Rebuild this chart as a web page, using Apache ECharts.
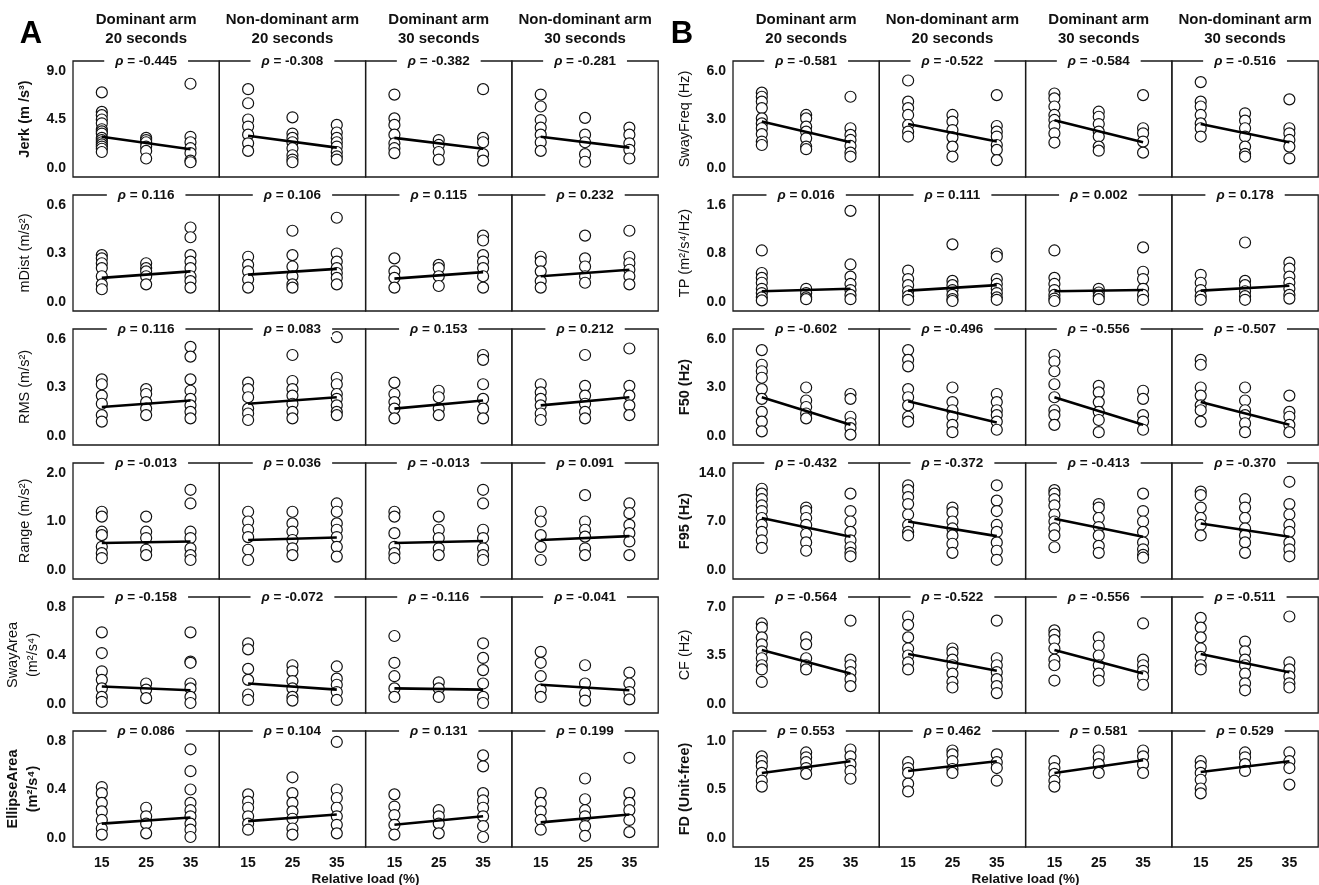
<!DOCTYPE html>
<html>
<head>
<meta charset="utf-8">
<script src="https://cdn.jsdelivr.net/npm/echarts@6/dist/echarts.min.js"></script>
<style>
  html, body { margin: 0; padding: 0; background: #fff; }
  #chart { width: 1319px; height: 885px; }
</style>
</head>
<body>
<div id="chart"></div>
<script>
// column headings and x positions (relative load, %)
const columns = ['Dominant arm\n20 seconds', 'Non-dominant arm\n20 seconds', 'Dominant arm\n30 seconds', 'Non-dominant arm\n30 seconds'];
const loads = [15, 25, 35];

// each metric: 4 panels (columns) x 3 loads
const jerk = [
  [[7.0, 5.2, 4.9, 4.5, 4.15, 3.6, 3.4, 3.2, 2.8, 2.6, 2.4, 2.2, 2.0, 1.8, 1.5], [2.8, 2.6, 2.4, 2.0, 1.6, 0.9], [7.8, 2.9, 2.4, 1.85, 1.4, 0.7, 0.55]],
  [[7.3, 6.0, 4.5, 3.85, 3.1, 2.3, 1.6], [4.7, 3.2, 2.8, 2.4, 1.85, 1.2, 0.8, 0.55], [4.0, 3.3, 2.8, 2.4, 2.0, 1.5, 1.1, 0.8]],
  [[6.8, 4.6, 4.0, 3.1, 2.3, 1.85, 1.4], [2.6, 2.15, 1.5, 0.8], [7.3, 2.8, 2.4, 1.3, 0.7]],
  [[6.8, 5.7, 4.45, 3.75, 3.1, 2.4, 1.6], [4.65, 3.1, 2.4, 1.3, 0.6], [3.75, 3.1, 2.3, 1.7, 0.9]]
];
const jerkLine = [[2.9, 1.75], [3.0, 1.9], [2.8, 1.8], [2.9, 1.9]];
const jerkRho = ['-0.445', '-0.308', '-0.382', '-0.281'];

const mDist = [
  [[0.29, 0.27, 0.24, 0.21, 0.16, 0.11, 0.08], [0.24, 0.21, 0.19, 0.16, 0.11], [0.46, 0.40, 0.29, 0.25, 0.21, 0.16, 0.13, 0.09]],
  [[0.28, 0.23, 0.19, 0.14, 0.09], [0.44, 0.29, 0.22, 0.16, 0.11, 0.09], [0.52, 0.30, 0.25, 0.21, 0.18, 0.15, 0.11]],
  [[0.27, 0.19, 0.15, 0.09], [0.23, 0.21, 0.16, 0.10], [0.41, 0.38, 0.29, 0.25, 0.21, 0.16, 0.09]],
  [[0.28, 0.25, 0.19, 0.13, 0.09], [0.41, 0.27, 0.22, 0.16, 0.12], [0.44, 0.28, 0.24, 0.20, 0.16, 0.11]]
];
const mDistLine = [[0.15, 0.19], [0.17, 0.205], [0.145, 0.185], [0.16, 0.20]];
const mDistRho = ['0.116', '0.106', '0.115', '0.232'];

const rms = [
  [[0.35, 0.32, 0.25, 0.20, 0.13, 0.09], [0.29, 0.26, 0.21, 0.17, 0.13], [0.55, 0.49, 0.35, 0.28, 0.23, 0.19, 0.15, 0.11]],
  [[0.33, 0.29, 0.24, 0.17, 0.14, 0.10], [0.50, 0.34, 0.29, 0.25, 0.20, 0.15, 0.11], [0.61, 0.36, 0.32, 0.26, 0.23, 0.19, 0.15, 0.13]],
  [[0.33, 0.26, 0.21, 0.17, 0.11], [0.28, 0.24, 0.17, 0.13], [0.50, 0.47, 0.32, 0.23, 0.17, 0.11]],
  [[0.32, 0.27, 0.23, 0.19, 0.14, 0.10], [0.50, 0.31, 0.25, 0.20, 0.15, 0.11], [0.54, 0.31, 0.25, 0.19, 0.13]]
];
const rmsLine = [[0.18, 0.22], [0.20, 0.24], [0.17, 0.22], [0.19, 0.24]];
const rmsRho = ['0.116', '0.083', '0.153', '0.212'];

const range = [
  [[1.2, 1.1, 0.79, 0.72, 0.48, 0.35, 0.25], [1.1, 0.79, 0.66, 0.42, 0.31], [1.65, 1.37, 0.79, 0.66, 0.45, 0.31, 0.21]],
  [[1.2, 1.0, 0.83, 0.68, 0.42, 0.21], [1.2, 0.96, 0.79, 0.62, 0.45, 0.31], [1.37, 1.2, 0.96, 0.83, 0.68, 0.48, 0.28]],
  [[1.2, 1.1, 0.76, 0.48, 0.35, 0.25], [1.1, 0.83, 0.66, 0.45, 0.31], [1.65, 1.37, 0.83, 0.66, 0.45, 0.31, 0.21]],
  [[1.2, 1.0, 0.72, 0.48, 0.21], [1.54, 1.0, 0.83, 0.69, 0.45, 0.31], [1.37, 1.17, 0.93, 0.76, 0.59, 0.31]]
];
const rangeLine = [[0.56, 0.59], [0.62, 0.67], [0.56, 0.60], [0.62, 0.70]];
const rangeRho = ['-0.013', '0.036', '-0.013', '0.091'];

const swayArea = [
  [[0.59, 0.42, 0.27, 0.20, 0.13, 0.06, 0.02], [0.17, 0.12, 0.05], [0.59, 0.35, 0.34, 0.17, 0.13, 0.06, 0.01]],
  [[0.50, 0.45, 0.29, 0.20, 0.08, 0.035], [0.32, 0.27, 0.19, 0.13, 0.06, 0.03], [0.31, 0.21, 0.16, 0.10, 0.035]],
  [[0.56, 0.34, 0.23, 0.13, 0.06], [0.18, 0.13, 0.06], [0.50, 0.38, 0.28, 0.17, 0.06, 0.01]],
  [[0.43, 0.34, 0.23, 0.12, 0.06], [0.32, 0.17, 0.09, 0.03], [0.26, 0.17, 0.10, 0.04]]
];
const swayAreaLine = [[0.145, 0.115], [0.17, 0.12], [0.13, 0.12], [0.16, 0.115]];
const swayAreaRho = ['-0.158', '-0.072', '-0.116', '-0.041'];

const ellipseArea = [
  [[0.42, 0.37, 0.29, 0.22, 0.15, 0.08, 0.03], [0.25, 0.18, 0.12, 0.04], [0.73, 0.55, 0.40, 0.29, 0.23, 0.18, 0.12, 0.07, 0.01]],
  [[0.36, 0.30, 0.25, 0.18, 0.12, 0.07], [0.50, 0.37, 0.29, 0.22, 0.16, 0.08, 0.03], [0.79, 0.40, 0.33, 0.25, 0.18, 0.11, 0.04]],
  [[0.36, 0.26, 0.19, 0.11, 0.03], [0.23, 0.18, 0.12, 0.04], [0.68, 0.59, 0.37, 0.31, 0.25, 0.18, 0.10, 0.01]],
  [[0.37, 0.29, 0.22, 0.15, 0.07], [0.49, 0.32, 0.23, 0.18, 0.10, 0.02], [0.66, 0.37, 0.29, 0.23, 0.15, 0.05]]
];
const ellipseAreaLine = [[0.12, 0.17], [0.14, 0.195], [0.11, 0.18], [0.13, 0.195]];
const ellipseAreaRho = ['0.086', '0.104', '0.131', '0.199'];

const swayFreq = [
  [[4.65, 4.4, 4.1, 3.7, 3.07, 2.76, 2.46, 2.1, 1.64, 1.43], [3.28, 3.07, 2.56, 2.25, 1.84, 1.33, 1.17], [4.4, 2.46, 2.05, 1.74, 1.37, 0.96, 0.72]],
  [[5.4, 4.1, 3.7, 3.28, 2.66, 2.25, 1.95], [3.28, 2.87, 2.35, 1.9, 1.33, 0.72], [4.5, 2.6, 2.25, 1.95, 1.43, 1.13, 0.5]],
  [[4.6, 4.3, 3.8, 3.28, 2.97, 2.6, 2.15, 1.58], [3.48, 3.17, 2.72, 2.25, 1.95, 1.33, 1.08], [4.5, 2.46, 2.15, 1.64, 0.96]],
  [[5.3, 4.1, 3.8, 3.28, 2.76, 2.46, 1.95], [3.38, 2.93, 2.46, 1.95, 1.33, 0.88, 0.72], [4.24, 2.46, 2.15, 1.74, 1.33, 0.61]]
];
const swayFreqLine = [[2.87, 1.6], [2.72, 1.65], [2.95, 1.6], [2.72, 1.6]];
const swayFreqRho = ['-0.581', '-0.522', '-0.584', '-0.516'];

const tp = [
  [[0.85, 0.48, 0.40, 0.32, 0.22, 0.15, 0.08, 0.03], [0.22, 0.15, 0.08, 0.05], [1.50, 0.62, 0.42, 0.30, 0.20, 0.12, 0.05]],
  [[0.52, 0.38, 0.28, 0.18, 0.10, 0.04], [0.95, 0.35, 0.28, 0.20, 0.12, 0.05, 0.02], [0.80, 0.75, 0.38, 0.30, 0.22, 0.15, 0.08, 0.04]],
  [[0.85, 0.40, 0.30, 0.20, 0.12, 0.06, 0.02], [0.22, 0.16, 0.10, 0.05], [0.90, 0.50, 0.38, 0.22, 0.12, 0.04]],
  [[0.45, 0.32, 0.20, 0.10, 0.04], [0.98, 0.35, 0.28, 0.18, 0.10, 0.04], [0.65, 0.55, 0.42, 0.32, 0.22, 0.12, 0.06]]
];
const tpLine = [[0.18, 0.22], [0.19, 0.28], [0.18, 0.20], [0.19, 0.27]];
const tpRho = ['0.016', '0.111', '0.002', '0.178'];

const f50 = [
  [[5.3, 4.4, 4.0, 3.6, 2.9, 2.3, 1.5, 0.9, 0.3], [3.0, 2.2, 1.8, 1.4, 1.1], [2.6, 2.3, 1.2, 0.8, 0.5, 0.1]],
  [[5.3, 4.7, 4.3, 2.9, 2.4, 1.9, 1.2, 0.9], [3.0, 2.1, 1.6, 1.2, 0.7, 0.25], [2.6, 2.1, 1.6, 1.3, 0.9, 0.4]],
  [[5.0, 4.6, 4.0, 3.2, 2.4, 1.6, 1.3, 0.7], [3.1, 2.7, 2.1, 1.5, 1.0, 0.25], [2.8, 2.3, 1.3, 0.9, 0.4]],
  [[4.7, 4.4, 3.0, 2.5, 1.9, 1.6, 0.9], [3.0, 2.2, 1.6, 1.3, 0.8, 0.25], [2.5, 1.5, 1.2, 0.7, 0.25]]
];
const f50Line = [[2.4, 0.7], [2.15, 0.85], [2.4, 0.7], [2.1, 0.7]];
const f50Rho = ['-0.602', '-0.496', '-0.556', '-0.507'];

const f95 = [
  [[11.7, 11.0, 10.2, 9.3, 8.5, 7.5, 6.5, 5.5, 4.3, 3.2], [9.0, 8.5, 7.5, 6.5, 5.2, 4.0, 2.8], [11.0, 8.5, 7.0, 5.5, 4.3, 3.3, 2.5, 2.0]],
  [[12.2, 11.5, 10.5, 9.5, 8.0, 6.5, 5.5, 5.0], [9.0, 8.3, 7.0, 6.0, 5.0, 3.8, 2.5], [12.2, 10.0, 8.5, 6.5, 5.5, 4.0, 2.8, 1.5]],
  [[11.5, 11.0, 10.2, 9.3, 8.0, 7.0, 6.0, 5.0, 3.3], [9.5, 9.0, 7.5, 6.2, 5.0, 3.5, 2.5], [11.0, 8.5, 7.0, 5.5, 4.0, 3.0, 2.2, 1.8]],
  [[11.3, 10.8, 9.0, 7.5, 6.5, 5.0], [10.2, 9.0, 7.5, 6.0, 5.0, 4.0, 2.5], [12.7, 9.5, 8.0, 6.5, 5.5, 4.0, 3.0, 2.0]]
];
const f95Line = [[7.5, 4.8], [7.0, 4.9], [7.4, 4.8], [6.7, 4.8]];
const f95Rho = ['-0.432', '-0.372', '-0.413', '-0.370'];

const cf = [
  [[5.8, 5.5, 4.8, 4.3, 3.8, 3.3, 2.8, 2.5, 1.6], [4.8, 4.3, 3.3, 2.8, 2.5], [6.0, 3.2, 2.8, 2.3, 1.8, 1.3]],
  [[6.3, 5.7, 4.8, 4.0, 3.5, 3.0, 2.5], [4.0, 3.7, 3.2, 2.8, 2.2, 1.6, 1.2], [6.0, 3.3, 2.8, 2.3, 1.8, 1.3, 0.8]],
  [[5.3, 5.0, 4.6, 4.0, 3.2, 2.8, 1.7], [4.8, 4.2, 3.5, 2.8, 2.2, 1.7], [5.8, 3.2, 2.8, 2.4, 2.0, 1.4]],
  [[6.2, 5.5, 4.8, 4.0, 3.4, 2.8, 2.5], [4.5, 3.8, 3.2, 2.8, 2.2, 1.5, 1.0], [6.3, 3.0, 2.5, 2.0, 1.5, 1.2]]
];
const cfLine = [[3.9, 2.2], [3.6, 2.4], [3.9, 2.2], [3.6, 2.3]];
const cfRho = ['-0.564', '-0.522', '-0.556', '-0.511'];

const fd = [
  [[0.84, 0.79, 0.74, 0.67, 0.59, 0.53], [0.88, 0.83, 0.78, 0.72, 0.66], [0.91, 0.84, 0.76, 0.69, 0.61]],
  [[0.78, 0.72, 0.67, 0.56, 0.48], [0.90, 0.86, 0.79, 0.71, 0.67], [0.86, 0.78, 0.72, 0.59]],
  [[0.79, 0.72, 0.66, 0.59, 0.53], [0.90, 0.83, 0.76, 0.67], [0.90, 0.84, 0.76, 0.67]],
  [[0.79, 0.74, 0.67, 0.60, 0.51, 0.46], [0.88, 0.83, 0.76, 0.69], [0.88, 0.79, 0.72, 0.55]]
];
const fdLine = [[0.67, 0.79], [0.69, 0.79], [0.67, 0.80], [0.68, 0.79]];
const fdRho = ['0.553', '0.462', '0.581', '0.529'];

// rows of each panel: axis title, top tick value, data
const panelA = [
  { name: 'Jerk (m /s³)', top: 9, pts: jerk, line: jerkLine, rho: jerkRho, bold: true },
  { name: 'mDist (m/s²)', top: 0.6, pts: mDist, line: mDistLine, rho: mDistRho },
  { name: 'RMS (m/s²)', top: 0.6, pts: rms, line: rmsLine, rho: rmsRho },
  { name: 'Range (m/s²)', top: 2, pts: range, line: rangeLine, rho: rangeRho },
  { name: 'SwayArea\n(m²/s⁴)', top: 0.8, pts: swayArea, line: swayAreaLine, rho: swayAreaRho },
  { name: 'EllipseArea\n(m²/s⁴)', top: 0.8, pts: ellipseArea, line: ellipseAreaLine, rho: ellipseAreaRho, bold: true }
];
const panelB = [
  { name: 'SwayFreq (Hz)', top: 6, pts: swayFreq, line: swayFreqLine, rho: swayFreqRho },
  { name: 'TP (m²/s⁴/Hz)', top: 1.6, pts: tp, line: tpLine, rho: tpRho },
  { name: 'F50 (Hz)', top: 6, pts: f50, line: f50Line, rho: f50Rho, bold: true },
  { name: 'F95 (Hz)', top: 14, pts: f95, line: f95Line, rho: f95Rho, bold: true },
  { name: 'CF (Hz)', top: 7, pts: cf, line: cfLine, rho: cfRho },
  { name: 'FD (Unit-free)', top: 1, pts: fd, line: fdLine, rho: fdRho, bold: true }
];

const FONT = 'Arial, "Liberation Sans", Helvetica, sans-serif';
const panels = [panelA, panelB];
const panelLeft = [73, 733];
const panelLetter = ['A', 'B'];
const colW = 146.3, rowTop = 61, rowStep = 134, rowH = 116;

const grids = [], xAxes = [], yAxes = [], series = [], graphics = [];

panels.forEach((rows, p) => {
  const x0 = panelLeft[p];
  graphics.push({
    type: 'text', x: x0 - 42 - (p ? 9 : 0), y: 34, z: 20,
    style: { text: panelLetter[p], font: 'bold 31px ' + FONT, fill: '#000', align: 'center', verticalAlign: 'middle' }
  });
  columns.forEach((c, ci) => {
    graphics.push({
      type: 'text', x: x0 + colW * (ci + 0.5), y: 29, z: 20,
      style: { text: c, font: 'bold 15px ' + FONT, lineHeight: 19, fill: '#111', align: 'center', verticalAlign: 'middle' }
    });
  });
  graphics.push({
    type: 'text', x: x0 + colW * 2, y: 879, z: 20,
    style: { text: 'Relative load (%)', font: 'bold 13.5px ' + FONT, fill: '#111', align: 'center', verticalAlign: 'middle' }
  });

  rows.forEach((m, r) => {
    for (let c = 0; c < 4; c++) {
      const gi = grids.length;
      const left = x0 + c * colW;
      const top = rowTop + r * rowStep;
      grids.push({
        left: left, top: top, width: colW, height: rowH,
        show: true, borderColor: '#1a1a1a', borderWidth: 1.3,
        containLabel: false, outerBoundsMode: 'none'
      });
      xAxes.push({
        type: 'value', gridIndex: gi, min: 8.5, max: 41.5,
        axisLine: { show: false }, axisTick: { show: false }, splitLine: { show: false },
        axisLabel: {
          show: r === rows.length - 1, customValues: loads, margin: 9,
          color: '#111', fontWeight: 'bold', fontSize: 14, fontFamily: FONT
        }
      });
      const isMulti = m.name.indexOf('\n') >= 0;
      yAxes.push({
        type: 'value', gridIndex: gi, min: -0.09 * m.top, max: 1.1 * m.top,
        axisLine: { show: false }, axisTick: { show: false }, splitLine: { show: false },
        axisLabel: {
          show: c === 0, customValues: [0, m.top / 2, m.top], margin: 7,
          formatter: v => v.toFixed(1),
          color: '#111', fontWeight: 'bold', fontSize: 14, fontFamily: FONT
        },
        name: c === 0 ? m.name : '',
        nameLocation: 'middle', nameRotate: 90, nameGap: isMulti ? 28 : 38,
        nameTextStyle: {
          color: '#111', fontSize: 14.5, lineHeight: 20, fontFamily: FONT,
          fontWeight: m.bold ? 'bold' : 'normal'
        }
      });
      const pts = [];
      m.pts[c].forEach((vals, li) => vals.forEach(v => pts.push([loads[li], v])));
      series.push({
        type: 'scatter', xAxisIndex: gi, yAxisIndex: gi, data: pts,
        symbol: 'circle', symbolSize: 11, z: 2, silent: true,
        itemStyle: { color: '#fff', borderColor: '#111', borderWidth: 1.2, opacity: 1 }
      });
      series.push({
        type: 'line', xAxisIndex: gi, yAxisIndex: gi, z: 3, silent: true,
        data: [[loads[0], m.line[c][0]], [loads[2], m.line[c][1]]],
        symbol: 'none', lineStyle: { color: '#000', width: 2.6 }
      });
      graphics.push({
        type: 'text', x: left + colW / 2, y: top, z: 20,
        style: {
          text: '{i|ρ} = ' + m.rho[c],
          rich: { i: { fontStyle: 'italic', fontWeight: 'bold', fontSize: 13.5, fontFamily: FONT, fill: '#111' } },
          font: 'bold 13.5px ' + FONT, fill: '#111',
          backgroundColor: '#fff', padding: [1, 11],
          align: 'center', verticalAlign: 'middle'
        }
      });
    }
  });
});

const chart = echarts.init(document.getElementById('chart'), null, { renderer: 'canvas' });
chart.setOption({
  backgroundColor: '#fff',
  animation: false,
  grid: grids,
  xAxis: xAxes,
  yAxis: yAxes,
  series: series,
  graphic: graphics
});
</script>
</body>
</html>
